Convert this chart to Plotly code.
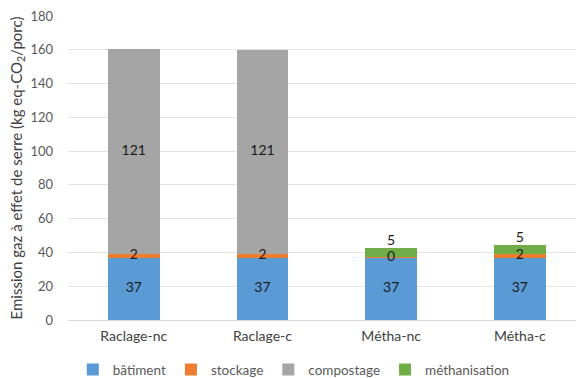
import plotly.graph_objects as go

# Emissions per scenario (kg eq-CO2 per pig), split by source
scenarios = ["Raclage-nc", "Raclage-c", "Métha-nc", "Métha-c"]
batiment = [37.0, 37.0, 37.0, 37.0]
stockage = [2.3, 2.2, 0.3, 2.2]
compostage = [121.3, 120.8, 0.0, 0.0]
methanisation = [0.0, 0.0, 5.2, 5.2]

y_ticks = [0, 20, 40, 60, 80, 100, 120, 140, 160, 180]

FONT = "Lato, 'Open Sans', sans-serif"
LABEL_COLOR = "#1a1a1a"
AXIS_TEXT = "#595959"

series = [
    ("bâtiment", batiment, "#5B9BD5", "middle center"),
    ("stockage", stockage, "#ED7D31", "middle center"),
    ("compostage", compostage, "#A5A5A5", "middle center"),
    ("méthanisation", methanisation, "#70AD47", "top center"),
]

fig = go.Figure()
for name, vals, color, _ in series:
    fig.add_trace(go.Bar(
        name=name,
        x=scenarios,
        y=vals,
        marker=dict(color=color, line=dict(width=0)),
        textposition="none",
        hoverinfo="skip",
    ))

# Segment value labels, drawn above every bar so thin segments stay readable
base = [0.0] * len(scenarios)
for name, vals, color, pos in series:
    lx, ly, lt = [], [], []
    for i, v in enumerate(vals):
        if v > 0:
            lx.append(scenarios[i])
            ly.append(base[i] + v / 2 if pos == "middle center" else base[i] + v)
            lt.append(f"{v:.0f}")
        base[i] += v
    fig.add_trace(go.Scatter(
        x=lx,
        y=ly,
        mode="text",
        text=lt,
        textposition=pos,
        textfont=dict(family=FONT, size=14, color=LABEL_COLOR),
        showlegend=False,
        hoverinfo="skip",
        cliponaxis=False,
    ))

fig.update_layout(
    width=576,
    height=378,
    barmode="stack",
    bargap=0.6,
    paper_bgcolor="white",
    plot_bgcolor="white",
    margin=dict(l=68, r=0, t=16, b=58),
    font=dict(family=FONT, size=14, color=AXIS_TEXT),
    showlegend=True,
    legend=dict(
        orientation="h",
        traceorder="normal",
        x=0.51,
        xanchor="center",
        xref="container",
        y=0.022,
        yanchor="middle",
        yref="container",
        font=dict(family=FONT, size=13.5, color=AXIS_TEXT),
        itemwidth=30,
        tracegroupgap=0,
    ),
)

fig.update_xaxes(
    range=[-0.511, 3.436],
    showgrid=False,
    showline=True,
    linecolor="#d9d9d9",
    linewidth=1,
    ticks="",
    tickfont=dict(family=FONT, size=14, color="#404040"),
    ticklabelstandoff=3,
)

fig.update_yaxes(
    range=[0, 180],
    tickvals=y_ticks,
    showgrid=True,
    gridcolor="#e3e3e3",
    gridwidth=1,
    zeroline=False,
    showline=False,
    ticks="",
    ticklabelstandoff=14,
    tickfont=dict(family=FONT, size=13, color=AXIS_TEXT),
    title=dict(
        text="Emission gaz à effet de serre (kg eq-CO<sub>2</sub>/porc)",
        font=dict(family=FONT, size=15, color="#404040"),
        standoff=4,
    ),
)

fig.write_html("out.html")
